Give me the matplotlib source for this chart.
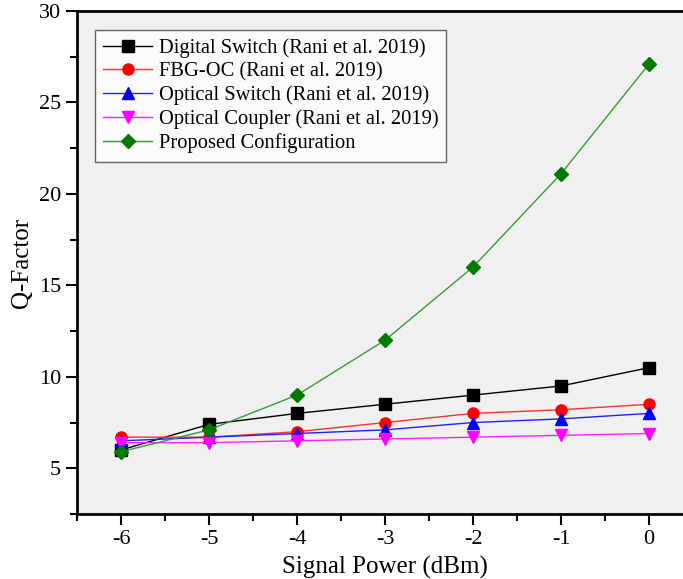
import matplotlib
matplotlib.use("Agg")
import matplotlib.pyplot as plt
from matplotlib.ticker import MultipleLocator

plt.rcParams['font.family'] = ['Liberation Serif', 'DejaVu Serif']

power = [-6, -5, -4, -3, -2, -1, 0]
digital_switch = [6.0, 7.4, 8.0, 8.5, 9.0, 9.5, 10.5]
fbg_oc = [6.7, 6.7, 7.0, 7.5, 8.0, 8.2, 8.5]
optical_switch = [6.5, 6.7, 6.9, 7.1, 7.5, 7.7, 8.0]
optical_coupler = [6.4, 6.4, 6.5, 6.6, 6.7, 6.8, 6.9]
proposed = [5.9, 7.1, 9.0, 12.0, 16.0, 21.1, 27.1]

labels = ["Digital Switch (Rani et al. 2019)",
          "FBG-OC (Rani et al. 2019)",
          "Optical Switch (Rani et al. 2019)",
          "Optical Coupler (Rani et al. 2019)",
          "Proposed Configuration"]

fig = plt.figure(figsize=(6.83, 5.79), dpi=100)
ax = fig.add_axes([77/683, 1-514/579, 616/683, 503/579])
ax.set_facecolor('#f0f0f0')

series = [
    (digital_switch, '#000000', '#000000', 's'),
    (fbg_oc, '#ff3030', '#ff0000', 'o'),
    (optical_switch, '#2020ff', '#0000ff', '^'),
    (optical_coupler, '#ff20ff', '#ff00ff', 'v'),
    (proposed, '#3a9a3a', '#007a00', 'D'),
]
for (vals, lc, mc, mk), lab in zip(series, labels):
    ms = 8 if mk != 'D' else 7
    ax.plot(power, vals, color=lc, lw=1.0, marker=mk, markersize=ms,
            markerfacecolor=mc, markeredgecolor=mc, label=lab)

ax.set_xlim(-6.5, 0.5)
ax.set_ylim(2.5, 30)
ax.xaxis.set_major_locator(MultipleLocator(1))
ax.xaxis.set_minor_locator(MultipleLocator(0.5))
ax.yaxis.set_major_locator(MultipleLocator(5))
ax.yaxis.set_minor_locator(MultipleLocator(2.5))
ax.tick_params(which='both', direction='out', width=1.5, labelsize=16)
ax.tick_params(which='major', length=8)
ax.tick_params(which='minor', length=5)
ax.yaxis.set_major_formatter(matplotlib.ticker.FuncFormatter(lambda v, p: f"{v:g}" if v >= 5 else ""))
ax.xaxis.set_major_formatter(matplotlib.ticker.FuncFormatter(lambda v, p: f"{v:g}".replace('\u2212', '-') if v <= 0 else ""))
for s in ['left', 'bottom', 'top']:
    ax.spines[s].set_linewidth(2)
ax.spines['right'].set_visible(False)

ax.set_xlabel("Signal Power (dBm)", fontsize=18, labelpad=5)
ax.set_ylabel("Q-Factor", fontsize=18, labelpad=4)

leg = ax.legend(loc='upper left', bbox_to_anchor=(0.029, 0.962), fontsize=14.8,
                frameon=True, fancybox=False, edgecolor='#404040',
                handlelength=2.4, borderpad=0.4, labelspacing=0.2,
                handletextpad=0.3, borderaxespad=0)
leg.get_frame().set_linewidth(1.0)
leg.get_frame().set_facecolor('white')

fig.savefig("out.png", dpi=100)
